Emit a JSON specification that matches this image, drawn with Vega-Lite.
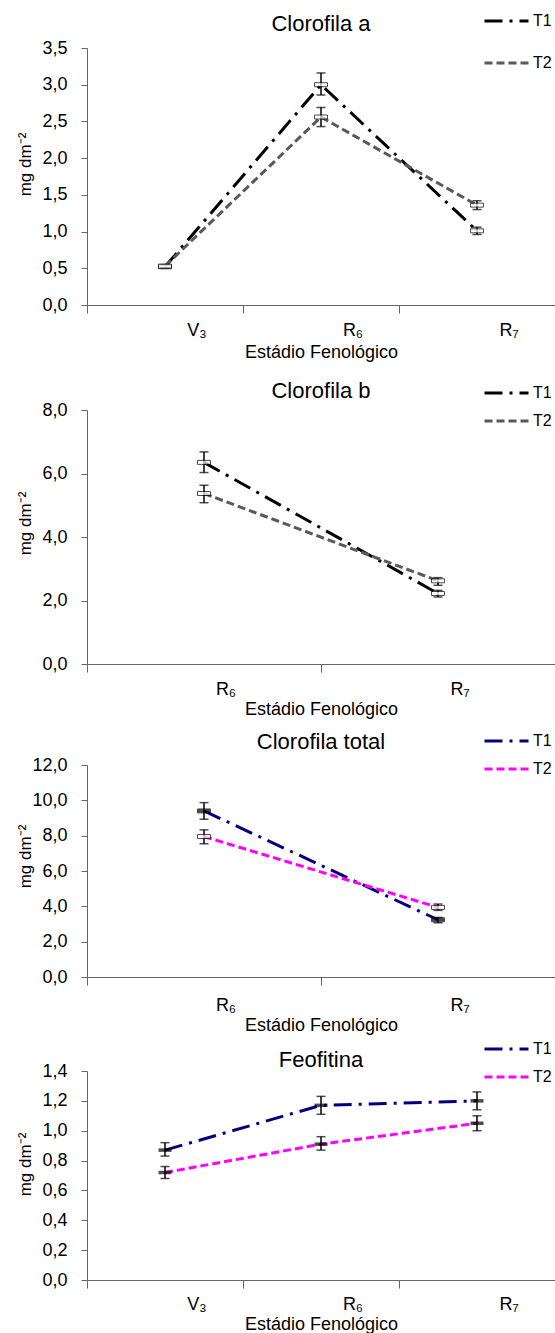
{
  "$schema": "https://vega.github.io/schema/vega-lite/v6.json",
  "padding": {"left": 16, "top": 13, "right": 0, "bottom": 0},
  "config": {
    "view": {"stroke": null},
    "font": "Liberation Sans",
    "title": {"font": "Liberation Sans", "fontSize": 22, "fontWeight": "normal", "color": "#000000", "anchor": "middle"},
    "axis": {"grid": false, "domainColor": "#666666", "tickColor": "#666666", "domainWidth": 1, "tickWidth": 1, "labelFont": "Liberation Sans", "labelColor": "#000000", "titleFont": "Liberation Sans", "titleColor": "#000000", "titleFontWeight": "normal"},
    "axisY": {"tickSize": 6, "labelPadding": 14, "labelFontSize": 18, "labelOverlap": false, "titleFontSize": 17, "minExtent": 47, "maxExtent": 47, "titlePadding": 5.5, "labelExpr": "replace(format(datum.value, '.1f'), '.', ',')"},
    "axisX": {"bandPosition": 0, "tickSize": 8, "labelAngle": 0, "labelFontSize": 18, "titleFontSize": 18, "labelOverlap": false},
    "legend": {"orient": "none", "symbolType": "stroke", "symbolSize": 1936, "symbolStrokeWidth": 3, "labelFont": "Liberation Sans", "labelFontSize": 16, "labelColor": "#000000", "labelOffset": 3, "padding": 0, "clipHeight": 16}
  },
  "data": {"values": [
    {"painel": "a", "trat": "T1", "estadio": "V₃", "media": 0.52, "inf": 0.50, "sup": 0.54},
    {"painel": "a", "trat": "T1", "estadio": "R₆", "media": 3.00, "inf": 2.86, "sup": 3.16},
    {"painel": "a", "trat": "T1", "estadio": "R₇", "media": 1.01, "inf": 0.96, "sup": 1.06},
    {"painel": "a", "trat": "T2", "estadio": "V₃", "media": 0.53, "inf": 0.51, "sup": 0.55},
    {"painel": "a", "trat": "T2", "estadio": "R₆", "media": 2.56, "inf": 2.43, "sup": 2.69},
    {"painel": "a", "trat": "T2", "estadio": "R₇", "media": 1.36, "inf": 1.30, "sup": 1.42},
    {"painel": "b", "trat": "T1", "estadio": "R₆", "media": 6.35, "inf": 6.03, "sup": 6.68},
    {"painel": "b", "trat": "T1", "estadio": "R₇", "media": 2.22, "inf": 2.11, "sup": 2.32},
    {"painel": "b", "trat": "T2", "estadio": "R₆", "media": 5.37, "inf": 5.08, "sup": 5.63},
    {"painel": "b", "trat": "T2", "estadio": "R₇", "media": 2.62, "inf": 2.48, "sup": 2.72},
    {"painel": "t", "trat": "T1", "estadio": "R₆", "media": 9.40, "inf": 8.93, "sup": 9.87},
    {"painel": "t", "trat": "T1", "estadio": "R₇", "media": 3.24, "inf": 3.07, "sup": 3.37},
    {"painel": "t", "trat": "T2", "estadio": "R₆", "media": 7.95, "inf": 7.54, "sup": 8.33},
    {"painel": "t", "trat": "T2", "estadio": "R₇", "media": 3.94, "inf": 3.77, "sup": 4.13},
    {"painel": "f", "trat": "T1", "estadio": "V₃", "media": 0.87, "inf": 0.83, "sup": 0.92},
    {"painel": "f", "trat": "T1", "estadio": "R₆", "media": 1.17, "inf": 1.11, "sup": 1.23},
    {"painel": "f", "trat": "T1", "estadio": "R₇", "media": 1.20, "inf": 1.14, "sup": 1.26},
    {"painel": "f", "trat": "T2", "estadio": "V₃", "media": 0.72, "inf": 0.68, "sup": 0.76},
    {"painel": "f", "trat": "T2", "estadio": "R₆", "media": 0.91, "inf": 0.87, "sup": 0.96},
    {"painel": "f", "trat": "T2", "estadio": "R₇", "media": 1.05, "inf": 1.00, "sup": 1.10}
  ]},
  "spacing": 13,
  "resolve": {"scale": {"x": "independent", "y": "independent", "color": "independent", "strokeDash": "independent"}, "axis": {"x": "independent", "y": "independent"}, "legend": {"color": "independent", "strokeDash": "independent"}},
  "vconcat": [
    {
      "spacing": 19,
      "resolve": {"scale": {"x": "independent", "y": "independent", "color": "independent", "strokeDash": "independent"}, "axis": {"x": "independent", "y": "independent"}, "legend": {"color": "independent", "strokeDash": "independent"}},
      "vconcat": [
        {
          "width": 468, "height": 257,
          "title": {"text": "Clorofila a", "offset": -33, "baseline": "middle"},
          "transform": [{"filter": "datum.painel == 'a'"}],
          "encoding": {
            "x": {"field": "estadio", "type": "nominal", "title": "Estádio Fenológico",
                  "scale": {"type": "band", "domain": ["V₃", "R₆", "R₇"], "paddingInner": 0, "paddingOuter": 0},
                  "axis": {"labelOffset": 32, "labelPadding": 8, "titlePadding": 4}}
          },
          "layer": [
            {"mark": {"type": "line", "strokeWidth": 3},
             "encoding": {
               "y": {"field": "media", "type": "quantitative", "title": "mg dm⁻²", "scale": {"domain": [0, 3.5], "nice": false, "zero": true}, "axis": {"values": [0, 0.5, 1, 1.5, 2, 2.5, 3, 3.5], "titleY": 116}},
               "order": {"value": null},
               "color": {"field": "trat", "type": "nominal", "scale": {"domain": ["T1", "T2"], "range": ["#000000", "#595959"]}, "legend": {"title": null, "legendX": 396, "legendY": -35, "rowPadding": 26}},
               "strokeDash": {"field": "trat", "type": "nominal", "scale": {"domain": ["T1", "T2"], "range": [[18, 7, 3, 7], [8, 4]]}, "legend": {"title": null, "legendX": 396, "legendY": -35, "rowPadding": 26}}
             }},
            {"mark": {"type": "rule", "color": "#000000", "strokeWidth": 1.5},
             "encoding": {"y": {"field": "inf", "type": "quantitative", "title": "mg dm⁻²", "axis": {"values": [0, 0.5, 1, 1.5, 2, 2.5, 3, 3.5], "titleY": 116}}, "y2": {"field": "sup"}}},
            {"mark": {"type": "tick", "color": "#000000", "size": 9, "thickness": 1.5},
             "encoding": {"y": {"field": "inf", "type": "quantitative", "title": "mg dm⁻²", "axis": {"values": [0, 0.5, 1, 1.5, 2, 2.5, 3, 3.5], "titleY": 116}}}},
            {"mark": {"type": "tick", "color": "#000000", "size": 9, "thickness": 1.5},
             "encoding": {"y": {"field": "sup", "type": "quantitative", "title": "mg dm⁻²", "axis": {"values": [0, 0.5, 1, 1.5, 2, 2.5, 3, 3.5], "titleY": 116}}}},
            {"mark": {"type": "tick", "color": "#ffffff", "stroke": "#000000", "strokeWidth": 1, "size": 13, "thickness": 4},
             "encoding": {"y": {"field": "media", "type": "quantitative", "title": "mg dm⁻²", "axis": {"values": [0, 0.5, 1, 1.5, 2, 2.5, 3, 3.5], "titleY": 116}}}}
          ]
        },
        {
          "width": 468, "height": 254,
          "title": {"text": "Clorofila b", "offset": -28, "baseline": "middle"},
          "transform": [{"filter": "datum.painel == 'b'"}],
          "encoding": {
            "x": {"field": "estadio", "type": "nominal", "title": "Estádio Fenológico",
                  "scale": {"type": "band", "domain": ["R₆", "R₇"], "paddingInner": 0, "paddingOuter": 0},
                  "axis": {"labelOffset": 22, "labelPadding": 8, "titlePadding": 2}}
          },
          "layer": [
            {"mark": {"type": "line", "strokeWidth": 3},
             "encoding": {
               "y": {"field": "media", "type": "quantitative", "title": "mg dm⁻²", "scale": {"domain": [0, 8], "nice": false, "zero": true}, "axis": {"values": [0, 2, 4, 6, 8], "titleY": 113}},
               "order": {"value": null},
               "color": {"field": "trat", "type": "nominal", "scale": {"domain": ["T1", "T2"], "range": ["#000000", "#595959"]}, "legend": {"title": null, "legendX": 396, "legendY": -25, "rowPadding": 12}},
               "strokeDash": {"field": "trat", "type": "nominal", "scale": {"domain": ["T1", "T2"], "range": [[18, 7, 3, 7], [8, 4]]}, "legend": {"title": null, "legendX": 396, "legendY": -25, "rowPadding": 12}}
             }},
            {"mark": {"type": "rule", "color": "#000000", "strokeWidth": 1.5},
             "encoding": {"y": {"field": "inf", "type": "quantitative", "title": "mg dm⁻²", "axis": {"values": [0, 2, 4, 6, 8], "titleY": 113}}, "y2": {"field": "sup"}}},
            {"mark": {"type": "tick", "color": "#000000", "size": 9, "thickness": 1.5},
             "encoding": {"y": {"field": "inf", "type": "quantitative", "title": "mg dm⁻²", "axis": {"values": [0, 2, 4, 6, 8], "titleY": 113}}}},
            {"mark": {"type": "tick", "color": "#000000", "size": 9, "thickness": 1.5},
             "encoding": {"y": {"field": "sup", "type": "quantitative", "title": "mg dm⁻²", "axis": {"values": [0, 2, 4, 6, 8], "titleY": 113}}}},
            {"mark": {"type": "tick", "color": "#ffffff", "stroke": "#000000", "strokeWidth": 1, "size": 13, "thickness": 4},
             "encoding": {"y": {"field": "media", "type": "quantitative", "title": "mg dm⁻²", "axis": {"values": [0, 2, 4, 6, 8], "titleY": 113}}}}
          ]
        }
      ]
    },
    {
      "spacing": 7,
      "resolve": {"scale": {"x": "independent", "y": "independent", "color": "independent", "strokeDash": "independent"}, "axis": {"x": "independent", "y": "independent"}, "legend": {"color": "independent", "strokeDash": "independent"}},
      "vconcat": [
        {
          "width": 468, "height": 212,
          "title": {"text": "Clorofila total", "offset": -31, "baseline": "middle"},
          "transform": [{"filter": "datum.painel == 't'"}],
          "encoding": {
            "x": {"field": "estadio", "type": "nominal", "title": "Estádio Fenológico",
                  "scale": {"type": "band", "domain": ["R₆", "R₇"], "paddingInner": 0, "paddingOuter": 0},
                  "axis": {"labelOffset": 22, "labelPadding": 11, "titlePadding": 2}}
          },
          "layer": [
            {"mark": {"type": "line", "strokeWidth": 3},
             "encoding": {
               "y": {"field": "media", "type": "quantitative", "title": "mg dm⁻²", "scale": {"domain": [0, 12], "nice": false, "zero": true}, "axis": {"values": [0, 2, 4, 6, 8, 10, 12], "titleY": 91}},
               "order": {"value": null},
               "color": {"field": "trat", "type": "nominal", "scale": {"domain": ["T1", "T2"], "range": ["#000080", "#ff00ff"]}, "legend": {"title": null, "legendX": 396, "legendY": -32, "rowPadding": 12}},
               "strokeDash": {"field": "trat", "type": "nominal", "scale": {"domain": ["T1", "T2"], "range": [[18, 7, 3, 7], [8, 4]]}, "legend": {"title": null, "legendX": 396, "legendY": -32, "rowPadding": 12}}
             }},
            {"mark": {"type": "rule", "color": "#000000", "strokeWidth": 1.5},
             "encoding": {"y": {"field": "inf", "type": "quantitative", "title": "mg dm⁻²", "axis": {"values": [0, 2, 4, 6, 8, 10, 12], "titleY": 91}}, "y2": {"field": "sup"}}},
            {"mark": {"type": "tick", "color": "#000000", "size": 9, "thickness": 1.5},
             "encoding": {"y": {"field": "inf", "type": "quantitative", "title": "mg dm⁻²", "axis": {"values": [0, 2, 4, 6, 8, 10, 12], "titleY": 91}}}},
            {"mark": {"type": "tick", "color": "#000000", "size": 9, "thickness": 1.5},
             "encoding": {"y": {"field": "sup", "type": "quantitative", "title": "mg dm⁻²", "axis": {"values": [0, 2, 4, 6, 8, 10, 12], "titleY": 91}}}},
            {"mark": {"type": "tick", "stroke": "#000000", "strokeWidth": 1, "size": 13, "thickness": 4},
             "encoding": {"y": {"field": "media", "type": "quantitative", "title": "mg dm⁻²", "axis": {"values": [0, 2, 4, 6, 8, 10, 12], "titleY": 91}},
                          "fill": {"condition": {"test": "datum.trat == 'T1'", "value": "#000000"}, "value": "#ffffff"}}}
          ]
        },
        {
          "width": 468, "height": 209,
          "title": {"text": "Feofitina", "offset": -41, "baseline": "middle"},
          "transform": [{"filter": "datum.painel == 'f'"}],
          "encoding": {
            "x": {"field": "estadio", "type": "nominal", "title": "Estádio Fenológico",
                  "scale": {"type": "band", "domain": ["V₃", "R₆", "R₇"], "paddingInner": 0, "paddingOuter": 0},
                  "axis": {"labelOffset": 32, "labelPadding": 7, "titlePadding": 2}}
          },
          "layer": [
            {"mark": {"type": "line", "strokeWidth": 3},
             "encoding": {
               "y": {"field": "media", "type": "quantitative", "title": "mg dm⁻²", "scale": {"domain": [0, 1.4], "nice": false, "zero": true}, "axis": {"values": [0, 0.2, 0.4, 0.6, 0.8, 1, 1.2, 1.4], "titleY": 93}},
               "order": {"value": null},
               "color": {"field": "trat", "type": "nominal", "scale": {"domain": ["T1", "T2"], "range": ["#000080", "#ff00ff"]}, "legend": {"title": null, "legendX": 396, "legendY": -30, "rowPadding": 12}},
               "strokeDash": {"field": "trat", "type": "nominal", "scale": {"domain": ["T1", "T2"], "range": [[18, 7, 3, 7], [8, 4]]}, "legend": {"title": null, "legendX": 396, "legendY": -30, "rowPadding": 12}}
             }},
            {"mark": {"type": "rule", "color": "#000000", "strokeWidth": 1.5},
             "encoding": {"y": {"field": "inf", "type": "quantitative", "title": "mg dm⁻²", "axis": {"values": [0, 0.2, 0.4, 0.6, 0.8, 1, 1.2, 1.4], "titleY": 93}}, "y2": {"field": "sup"}}},
            {"mark": {"type": "tick", "color": "#000000", "size": 9, "thickness": 1.5},
             "encoding": {"y": {"field": "inf", "type": "quantitative", "title": "mg dm⁻²", "axis": {"values": [0, 0.2, 0.4, 0.6, 0.8, 1, 1.2, 1.4], "titleY": 93}}}},
            {"mark": {"type": "tick", "color": "#000000", "size": 9, "thickness": 1.5},
             "encoding": {"y": {"field": "sup", "type": "quantitative", "title": "mg dm⁻²", "axis": {"values": [0, 0.2, 0.4, 0.6, 0.8, 1, 1.2, 1.4], "titleY": 93}}}},
            {"mark": {"type": "tick", "color": "#000000", "size": 13, "thickness": 3.5},
             "encoding": {"y": {"field": "media", "type": "quantitative", "title": "mg dm⁻²", "axis": {"values": [0, 0.2, 0.4, 0.6, 0.8, 1, 1.2, 1.4], "titleY": 93}}}}
          ]
        }
      ]
    }
  ]
}
